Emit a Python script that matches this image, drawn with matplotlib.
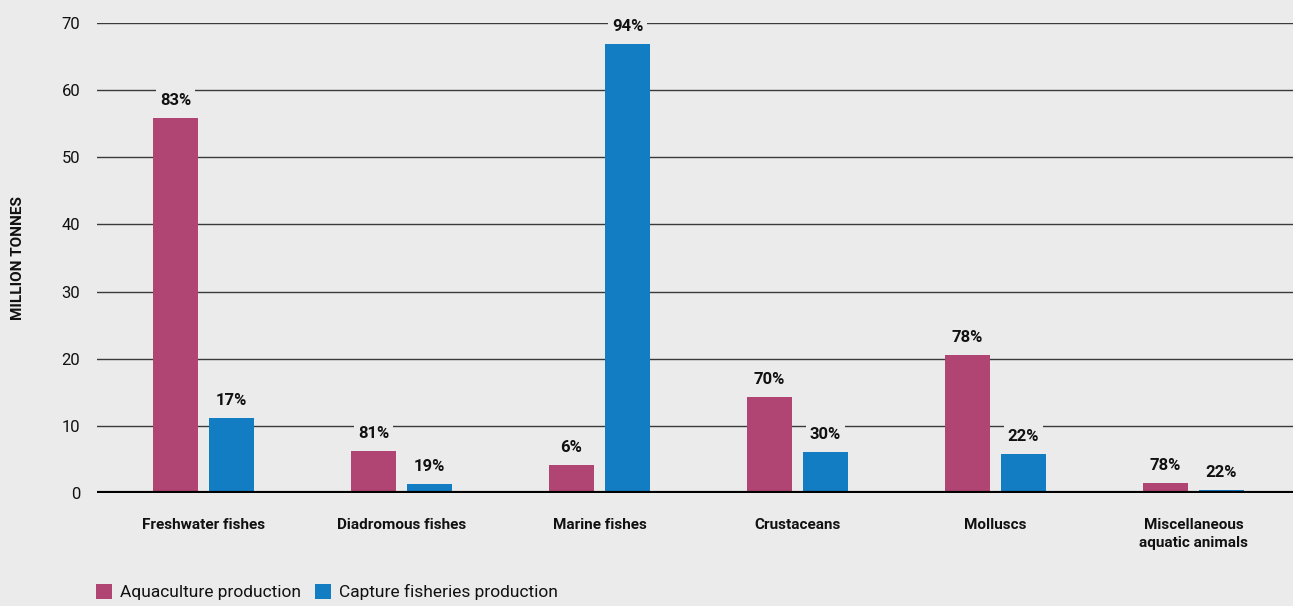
import matplotlib
matplotlib.use("Agg")
import matplotlib.pyplot as plt
from matplotlib.patches import Patch
import numpy as np

plt.rcParams['font.family'] = ['Roboto', 'DejaVu Sans']

categories = ["Freshwater fishes", "Diadromous fishes", "Marine fishes",
              "Crustaceans", "Molluscs", "Miscellaneous\naquatic animals"]
aquaculture = [55.9, 6.3, 4.2, 14.3, 20.6, 1.5]
capture = [11.2, 1.4, 66.9, 6.1, 5.8, 0.45]
aqua_share = ["83%", "81%", "6%", "70%", "78%", "78%"]
capture_share = ["17%", "19%", "94%", "30%", "22%", "22%"]
yticks = [0, 10, 20, 30, 40, 50, 60, 70]

bg = "#EBEBEB"
pink = "#B04573"
blue = "#127DC2"

fig = plt.figure(figsize=(12.93, 6.06), dpi=100, facecolor=bg)
ax = fig.add_axes([0.075, 0.1865, 0.925, 0.7755], facecolor=bg)

x = np.arange(len(categories))
w = 0.227
off = 0.1414
b1 = ax.bar(x - off, aquaculture, w, color=pink, zorder=3)
b2 = ax.bar(x + off, capture, w, color=blue, zorder=3)

for bars, labels in ((b1, aqua_share), (b2, capture_share)):
    for rect, lab in zip(bars, labels):
        ax.annotate(lab, (rect.get_x() + rect.get_width() / 2, rect.get_height()),
                    xytext=(0, 7), textcoords="offset points",
                    ha="center", va="bottom", fontsize=12, fontweight="bold",
                    color="#111111", zorder=4,
                    bbox=dict(boxstyle="square,pad=0.25", fc=bg, ec="none"))

ax.set_xlim(-0.538, 5.502)
ax.set_ylim(0, 70)
ax.set_yticks(yticks)
ax.set_yticklabels([str(t) for t in yticks], fontsize=12, color="#111111")
ax.yaxis.grid(True, color="#3a3a3a", linewidth=1.0, zorder=0)
ax.set_axisbelow(True)
ax.axhline(0, color="black", linewidth=3, zorder=5)
ax.tick_params(axis="y", length=0, pad=12)
ax.tick_params(axis="x", length=0, pad=18)
ax.set_xticks(x)
ax.set_xticklabels(categories, fontsize=11, fontweight="bold", color="#111111",
                   linespacing=1.35, va="top")
for s in ax.spines.values():
    s.set_visible(False)

fig.text(18 / 1293, 1 - 258 / 606, "MILLION TONNES", rotation=90, ha="center",
         va="center", fontsize=11, fontweight="bold", color="#111111")

handles = [Patch(facecolor=pink, edgecolor="none"),
           Patch(facecolor=blue, edgecolor="none")]
fig.legend(handles, ["Aquaculture production", "Capture fisheries production"],
           loc="center left", bbox_to_anchor=(0.062, 0.023), ncol=2,
           frameon=False, fontsize=12.5, handlelength=0.95, handleheight=0.95,
           handletextpad=0.45, columnspacing=0.8, labelcolor="#111111")

fig.savefig("out.png", dpi=100, facecolor=bg)
